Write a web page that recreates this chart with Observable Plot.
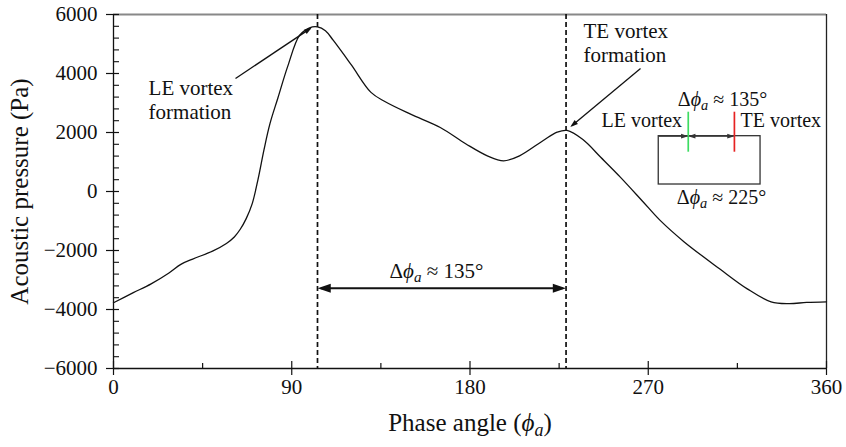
<!DOCTYPE html>
<html><head><meta charset="utf-8">
<script src="https://cdn.jsdelivr.net/npm/d3@7"></script>
<script src="https://cdn.jsdelivr.net/npm/@observablehq/plot@0.6"></script>
<style>
body{margin:0;background:#fff;}
#chart svg{display:block;}
</style></head><body><div id="chart"></div>
<script>
// ---- data ----
const phase = [0, 10, 19, 28, 34, 40, 50, 57, 61, 64, 67, 70, 73, 76, 79, 83, 88, 94, 99, 103, 107, 111, 120, 130, 137, 150, 165, 178, 189, 197, 205, 217, 224, 229, 237, 246, 256, 267, 276, 288, 306, 320, 332, 341, 350, 360];
const pressure = [-3770, -3430, -3130, -2760, -2470, -2290, -2020, -1760, -1540, -1280, -920, -420, 420, 1420, 2300, 3170, 4250, 5300, 5550, 5580, 5450, 5120, 4300, 3360, 3050, 2620, 2170, 1610, 1200, 1040, 1210, 1730, 2010, 2070, 1760, 1160, 480, -320, -980, -1700, -2620, -3300, -3740, -3800, -3760, -3740];
const xTicks = [0, 90, 180, 270, 360];
const xMinor = [45, 135, 225, 315];
const yTicks = [-6000, -4000, -2000, 0, 2000, 4000, 6000];
const yMinor = [-5600, -5200, -4800, -4400, -3600, -3200, -2800, -2400, -1600, -1200, -800, -400, 400, 800, 1200, 1600, 2400, 2800, 3200, 3600, 4400, 4800, 5200, 5600];
const vortexPhases = [103, 228.5];
const annoTexts = [
  {x: 17.7, y: 2464, text: "LE vortex\nformation", anchor: "start"},
  {x: 237.3, y: 4383, text: "TE vortex\nformation", anchor: "start"},
  {x: 163.1, y: -2925, text: "Δϕa ≈ 135°", anchor: "middle"}
];
const insetTexts = [
  {x: 307.5, y: 2915, text: "Δϕa ≈ 135°", anchor: "middle"},
  {x: 287.1, y: 2203, text: "LE vortex", anchor: "end"},
  {x: 316.6, y: 2203, text: "TE vortex", anchor: "start"},
  {x: 307, y: -417, text: "Δϕa ≈ 225°", anchor: "middle"}
];
const pointerArrows = [
  {x1: 61.6, y1: 3831, x2: 99.3, y2: 5520},
  {x1: 266.1, y1: 4169, x2: 231.4, y2: 2230}
];
const spanArrow = [{x1: 104.7, y1: -3280, x2: 226.8, y2: -3280}];
const insetBox = [{x1: 275.3, x2: 326.7, y1: 237, y2: 1875}];
const insetLE = [{x: 290.2, y1: 1332, y2: 2688}];
const insetTE = [{x: 313.5, y1: 1332, y2: 2688}];
const insetEndArrow = [{x1: 275.3, y1: 1875, x2: 289.3, y2: 1875}];
const insetSpanArrow = [{x1: 291.1, y1: 1875, x2: 312.6, y2: 1875}];

const fmt = d => d < 0 ? "\u2212" + Math.abs(d) : String(d);
const data = phase.map((p, i) => ({phase: p, pressure: pressure[i]}));

const W = 846, H = 447, mL = 113, mR = 20, mT = 14, mB = 79;
const plotW = W - mL - mR, plotH = H - mT - mB;
const serif = "'Liberation Serif', 'Times New Roman', serif";
const ink = "#111";
const byAnchor = (arr, a) => arr.filter(d => d.anchor === a);

const textMarks = (arr, opts) => ["start", "middle", "end"].map(a =>
  Plot.text(byAnchor(arr, a), {x: "x", y: "y", text: "text", textAnchor: a, lineAnchor: "bottom", fill: ink, ...opts}));

const chart = Plot.plot({
  width: W, height: H,
  marginLeft: mL, marginRight: mR, marginTop: mT, marginBottom: mB,
  style: {fontFamily: serif, background: "white", color: ink, overflow: "visible"},
  x: {domain: [0, 360], axis: null},
  y: {domain: [-6000, 6000], axis: null},
  marks: [
    // frame
    Plot.ruleY([6000], {stroke: "#888", strokeWidth: 1.8}),
    Plot.ruleX([360], {stroke: "#222", strokeWidth: 1.3}),
    Plot.ruleX([0], {stroke: ink, strokeWidth: 1.3}),
    Plot.ruleY([-6000], {stroke: ink, strokeWidth: 1.3}),
    // ticks
    Plot.ruleX(xTicks, {insetTop: plotH - 7, insetBottom: -7, stroke: ink, strokeWidth: 1.2}),
    Plot.ruleX(xMinor, {insetTop: plotH - 5, stroke: ink, strokeWidth: 1.2}),
    Plot.ruleY(yTicks, {insetLeft: -7, insetRight: plotW - 6, stroke: ink, strokeWidth: 1.2}),
    Plot.ruleY(yMinor, {insetRight: plotW - 6, stroke: ink, strokeWidth: 1.1}),
    // tick labels
    Plot.text(xTicks, {x: d => d, frameAnchor: "bottom", dy: 25, fontSize: 21, text: d => String(d), fill: ink}),
    Plot.text(yTicks, {y: d => d, frameAnchor: "left", textAnchor: "end", dx: -16, fontSize: 21, text: fmt, fill: ink}),
    // axis labels
    Plot.text(["Acoustic pressure (Pa)"], {frameAnchor: "left", textAnchor: "middle", dx: -94, rotate: -90, fontSize: 25, text: d => d, fill: ink}),
    Plot.text(["Phase angle (ϕa)"], {frameAnchor: "bottom", textAnchor: "middle", dy: 62, fontSize: 25, text: d => d, fill: ink}),
    // vortex lines
    Plot.ruleX(vortexPhases, {stroke: ink, strokeWidth: 1.7, strokeDasharray: "5,3"}),
    // curve
    Plot.line(data, {x: "phase", y: "pressure", curve: "catmull-rom", stroke: ink, strokeWidth: 1.3}),
    // annotations
    Plot.link(pointerArrows, {x1: "x1", y1: "y1", x2: "x2", y2: "y2", stroke: ink, strokeWidth: 1.3, markerEnd: "arrow"}),
    Plot.link(spanArrow, {x1: "x1", y1: "y1", x2: "x2", y2: "y2", stroke: ink, strokeWidth: 2.2, markerStart: "arrow", markerEnd: "arrow"}),
    ...textMarks(annoTexts, {fontSize: 21, lineHeight: 1.13}),
    // inset schematic
    Plot.rect(insetBox, {x1: "x1", x2: "x2", y1: "y1", y2: "y2", fill: "none", stroke: "#333", strokeWidth: 1.3}),
    Plot.ruleX(insetLE, {x: "x", y1: "y1", y2: "y2", stroke: "#3ddc62", strokeWidth: 1.7}),
    Plot.ruleX(insetTE, {x: "x", y1: "y1", y2: "y2", stroke: "#e62222", strokeWidth: 1.7}),
    Plot.link(insetEndArrow, {x1: "x1", y1: "y1", x2: "x2", y2: "y2", stroke: "#333", strokeWidth: 1.2, markerEnd: "arrow"}),
    Plot.link(insetSpanArrow, {x1: "x1", y1: "y1", x2: "x2", y2: "y2", stroke: "#333", strokeWidth: 1.2, markerStart: "arrow", markerEnd: "arrow"}),
    ...textMarks(insetTexts, {fontSize: 20})
  ]
});

// filled triangular arrowheads
const NS = "http://www.w3.org/2000/svg";
chart.querySelectorAll("marker").forEach(m => {
  const c = m.getAttribute("stroke") || ink;
  m.setAttribute("viewBox", "-5 -3 7 6");
  m.setAttribute("markerWidth", 7);
  m.setAttribute("markerHeight", 6);
  m.setAttribute("refX", 0);
  m.setAttribute("refY", 0);
  m.setAttribute("orient", "auto-start-reverse");
  m.setAttribute("fill", c);
  m.setAttribute("stroke", "none");
  m.setAttribute("overflow", "visible");
  while (m.firstChild) m.removeChild(m.firstChild);
  const p = document.createElementNS(NS, "path");
  p.setAttribute("d", "M1.5,0L-4.5,-2L-4.5,2Z");
  m.appendChild(p);
});

// italic phi with subscript a
chart.querySelectorAll("text").forEach(t => {
  const s = t.textContent;
  const i = s.indexOf("ϕa");
  if (i < 0 || t.querySelector("tspan")) return;
  t.textContent = "";
  const add = (str, attrs) => {
    const ts = document.createElementNS(NS, "tspan");
    ts.textContent = str;
    for (const k in attrs) ts.setAttribute(k, attrs[k]);
    t.appendChild(ts);
  };
  add(s.slice(0, i), {});
  add("ϕ", {"font-style": "italic"});
  add("a", {"font-style": "italic", "font-size": "0.72em", dy: "0.3em"});
  add(s.slice(i + 2), {dy: "-0.216em"});
});

document.getElementById("chart").appendChild(chart);
</script>
</body></html>
